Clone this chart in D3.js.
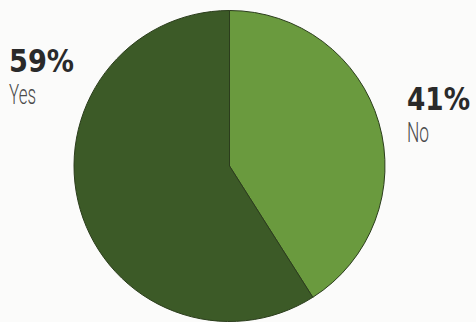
<!DOCTYPE html>
<html>
<head>
<meta charset="utf-8">
<script src="https://cdn.jsdelivr.net/npm/d3@7"></script>
<style>
  body { margin: 0; background: #fbfbfa; }
  svg { display: block; }
</style>
</head>
<body>
<div id="chart"></div>
<script>
// answer categories and shares (%), in drawing order (clockwise from 12 o'clock)
const categories = ['No', 'Yes']
const values = [41, 59]
const colors = ['#6a9a3e', '#3c5a27']

const width = 476
const height = 322
const radius = 155.5
const cx = 229.5
const cy = 166

const svg = d3.select('#chart').append('svg')
  .attr('width', width)
  .attr('height', height)

const pie = d3.pie().sort(null).value(d => d.value)
const arc = d3.arc().innerRadius(0).outerRadius(radius)

const data = categories.map((c, i) => ({ key: c, value: values[i], color: colors[i] }))

const g = svg.append('g')
  .attr('transform', `translate(${cx}, ${cy})`)

g.selectAll('path')
  .data(pie(data))
  .enter().append('path')
  .attr('d', arc)
  .style('fill', d => d.data.color)
  .style('stroke', '#2b3d1c')
  .style('stroke-width', 1)

// labels: big bold percentage over the category name
const labels = [
  { key: 'Yes', x: 9, y: 72, pctWidth: 65, nameWidth: 27 },
  { key: 'No', x: 407, y: 110, pctWidth: 63, nameWidth: 22 }
]

labels.forEach(l => {
  const d = data.find(e => e.key === l.key)
  svg.append('text')
    .attr('x', l.x)
    .attr('y', l.y)
    .attr('textLength', l.pctWidth)
    .attr('lengthAdjust', 'spacingAndGlyphs')
    .style('font-family', 'DejaVu Sans Condensed, DejaVu Sans')
    .style('font-weight', 'bold')
    .style('font-size', '32px')
    .style('fill', '#2a2a2a')
    .text(d.value + '%')

  svg.append('text')
    .attr('x', l.x)
    .attr('y', l.y + 32)
    .attr('textLength', l.nameWidth)
    .attr('lengthAdjust', 'spacingAndGlyphs')
    .style('font-family', 'Liberation Sans Narrow, Roboto')
    .style('font-weight', 300)
    .style('font-size', '27px')
    .style('fill', '#4a4a4a')
    .text(d.key)
})
</script>
</body>
</html>
